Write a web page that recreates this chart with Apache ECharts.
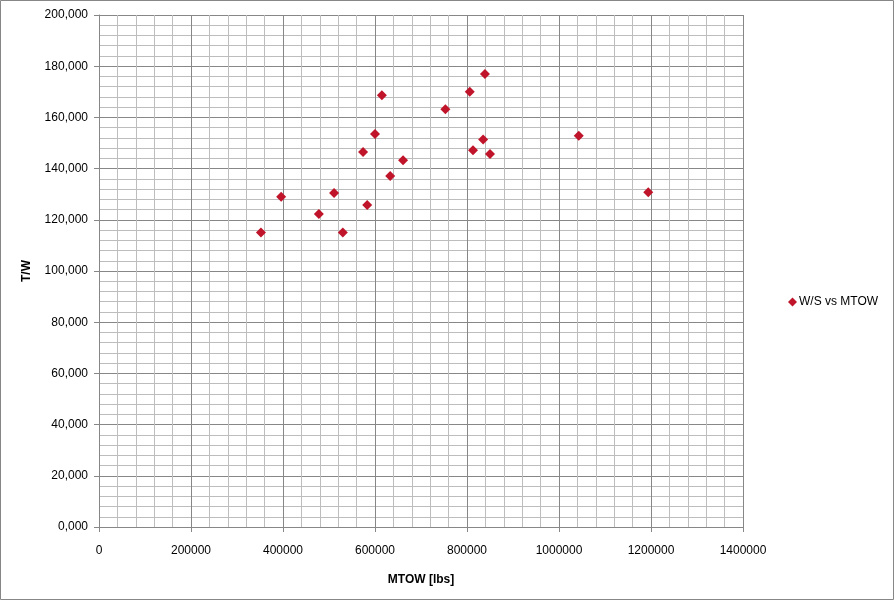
<!DOCTYPE html>
<html><head><meta charset="utf-8">
<script src="https://cdn.jsdelivr.net/npm/echarts@6/dist/echarts.min.js"></script>
<style>html,body{margin:0;padding:0;background:#fff}#c{width:895px;height:601px}</style>
</head><body><div id="c"></div>
<script>
const seriesName = 'W/S vs MTOW';
const mtow = [352000, 396000, 478000, 511000, 530000, 583000, 574000, 600000, 615000, 633000, 661000, 753000, 806000, 813000, 835000, 839000, 850000, 1043000, 1194000];
const tw   = [115000, 129000, 122300, 130500, 115000, 125800, 146500, 153500, 168700, 137100, 143300, 163200, 170000, 147200, 151400, 177000, 145700, 152800, 130800];
const yTickLabels = ['0,000','20,000','40,000','60,000','80,000','100,000','120,000','140,000','160,000','180,000','200,000'];
const xTickLabels = ['0','200000','400000','600000','800000','1000000','1200000','1400000'];

const chart = echarts.init(document.getElementById('c'));
const font = 'Liberation Sans, Arial, sans-serif';
chart.setOption({
  animation:false,
  backgroundColor:'#fff',
  graphic:[{type:'rect',shape:{x:0.5,y:0.5,width:893,height:599},style:{fill:'none',stroke:'#878787',lineWidth:1},silent:true}],
  grid:{left:99,right:152,top:15,bottom:74},
  legend:{
    data:[{name:seriesName,icon:'diamond'}],
    orient:'vertical', left:783, top:291,
    itemWidth:9,itemHeight:9,itemGap:4,
    textStyle:{fontFamily:font,fontSize:12,color:'#000',padding:[0,0,0,-3]}
  },
  xAxis:{
    type:'value',min:0,max:1400000,interval:200000,
    name:'MTOW [lbs]',nameLocation:'middle',nameGap:47,
    nameTextStyle:{fontFamily:font,fontSize:12,fontWeight:'bold',color:'#000'},
    axisLine:{show:true,lineStyle:{color:'#878787',width:1}},
    axisTick:{show:true,inside:false,length:5,lineStyle:{color:'#878787'}},
    axisLabel:{fontFamily:font,fontSize:12,color:'#000',margin:18,
      formatter:(v)=>xTickLabels[Math.round(v/200000)]},
    splitLine:{show:true,lineStyle:{color:'#878787',width:1}},
    minorTick:{show:false,splitNumber:5},
    minorSplitLine:{show:true,lineStyle:{color:'#bdbdbd',width:1}}
  },
  yAxis:{
    type:'value',min:0,max:200000,interval:20000,
    name:'T/W',nameLocation:'middle',nameGap:66,nameRotate:90,nameMoveOverlap:false,
    nameTextStyle:{fontFamily:font,fontSize:12,fontWeight:'bold',color:'#000'},
    axisLine:{show:true,lineStyle:{color:'#878787',width:1}},
    axisTick:{show:true,inside:false,length:5,lineStyle:{color:'#878787'}},
    axisLabel:{fontFamily:font,fontSize:12,color:'#000',margin:11,
      formatter:(v)=>yTickLabels[Math.round(v/20000)]},
    splitLine:{show:true,lineStyle:{color:'#878787',width:1}},
    minorTick:{show:false,splitNumber:5},
    minorSplitLine:{show:true,lineStyle:{color:'#bdbdbd',width:1}}
  },
  series:[{
    name:seriesName,type:'scatter',symbol:'diamond',symbolSize:10,
    itemStyle:{color:'#c0142a',opacity:1},
    data:mtow.map((x,i)=>[x,tw[i]])
  }]
});
</script></body></html>
